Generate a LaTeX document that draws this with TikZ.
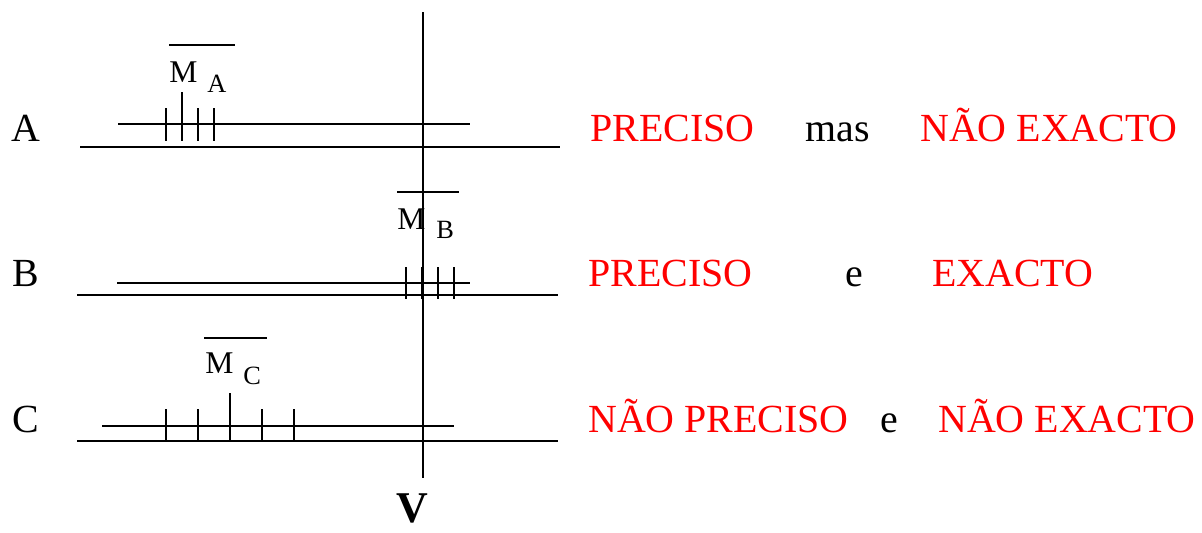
\documentclass[tikz,border=0pt]{standalone}
\usepackage{fontspec}
\setmainfont{Liberation Serif}
\usepackage{tikz}
\usetikzlibrary{positioning}
\definecolor{vermelho}{RGB}{255,0,0}

\begin{document}
\begin{tikzpicture}[
  x=0.02cm, y=-0.02cm,
  traco/.style={line width=1.25pt, color=black},
  rotulo/.style={anchor=base west, inner sep=0pt,
    font=\fontsize{22.7}{27}\selectfont},
  conclusao/.style={rotulo, color=vermelho},
  media/.style={anchor=base west, inner sep=0pt,
    font=\fontsize{18}{21}\selectfont},
  indice/.style={anchor=base west, inner sep=0pt,
    font=\fontsize{15}{18}\selectfont}
]
\useasboundingbox (0,0) rectangle (1202,532);

% valor verdadeiro
\draw[traco] (423,12) -- (423,478);
\node[anchor=base, inner sep=0pt, font=\fontsize{25}{30}\selectfont\bfseries]
  (valor) at (412,522) {V};

% A
\node[rotulo] (linhaA) at (11,141) {A};
\draw[traco] (118,124) -- (470,124);
\draw[traco] (80,147) -- (560,147);
\foreach \x in {166,198,214} \draw[traco] (\x,108) -- (\x,141);
\draw[traco] (182,92) -- (182,141);
\node[media] (mA) at (169,82) {M};
\node[indice] (iA) at (207,92) {A};
\draw[traco] (mA.base west) ++(0,-37) -- ++(66,0);
\node[conclusao] (precA) at (590,141) {PRECISO};
\node[rotulo] (masA) at (805,141) {mas};
\node[conclusao] (exA) at (920,141) {NÃO EXACTO};

% B
\node[rotulo] (linhaB) at (12,286) {B};
\draw[traco] (117,283) -- (470,283);
\draw[traco] (77,295) -- (558,295);
\foreach \x in {406,422,438,454} \draw[traco] (\x,267) -- (\x,299);
\node[media] (mB) at (397,229) {M};
\node[indice] (iB) at (436,238) {B};
\draw[traco] (mB.base west) ++(0,-37) -- ++(62,0);
\node[conclusao] (precB) at (588,286) {PRECISO};
\node[rotulo] (eB) at (845,286) {e};
\node[conclusao] (exB) at (932,286) {EXACTO};

% C
\node[rotulo] (linhaC) at (12,432) {C};
\draw[traco] (102,426) -- (454,426);
\draw[traco] (77,441) -- (558,441);
\foreach \x in {166,198,262,294} \draw[traco] (\x,409) -- (\x,442);
\draw[traco] (230,393) -- (230,442);
\node[media] (mC) at (205,373) {M};
\node[indice] (iC) at (243,384) {C};
\draw[traco] (mC.base west) ++(-1,-35) -- ++(63,0);
\node[conclusao] (precC) at (588,432) {NÃO PRECISO};
\node[rotulo] (eC) at (880,432) {e};
\node[conclusao] (exC) at (938,432) {NÃO EXACTO};
\end{tikzpicture}
\end{document}
